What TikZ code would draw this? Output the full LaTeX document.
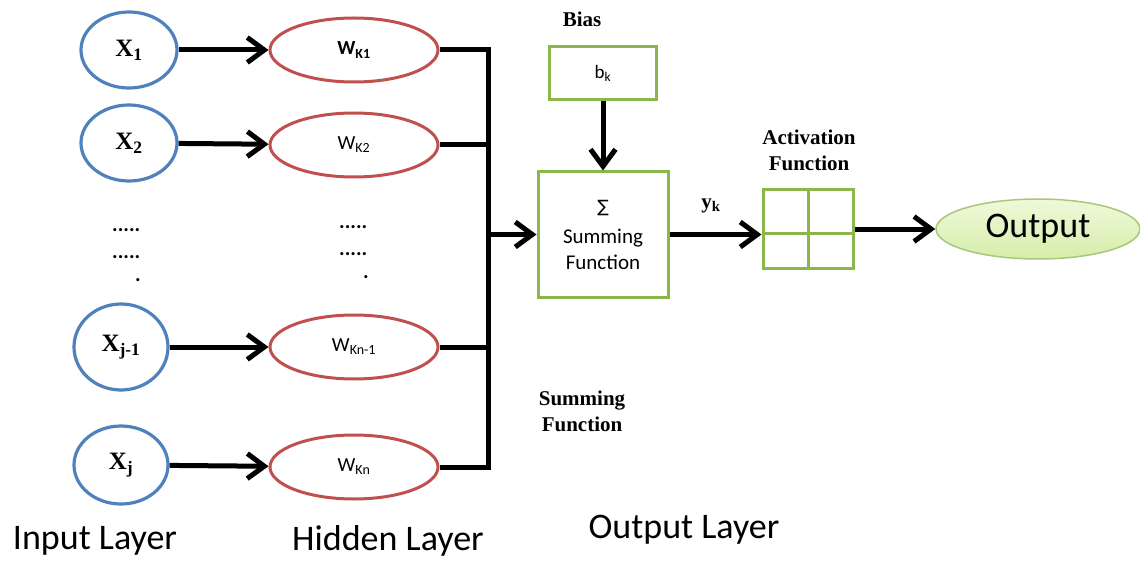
\documentclass[tikz,border=0pt]{standalone}
\usepackage{fontspec}
\setmainfont{Liberation Serif}
\newfontfamily\calib{Carlito}
\newfontfamily\symfont{DejaVu Sans}
\usetikzlibrary{arrows.meta,shapes.geometric}

\definecolor{inblue}{HTML}{4F81BD}
\definecolor{hidred}{HTML}{C0504D}
\definecolor{boxgreen}{HTML}{8DB64A}
\definecolor{outedge}{HTML}{A5C97A}
\definecolor{outtop}{HTML}{EFF9DA}
\definecolor{outbot}{HTML}{D6EDAA}

\newcommand{\fs}[2]{\fontsize{#1}{#2}\selectfont}

\tikzset{
  inode/.style={ellipse, draw=inblue, line width=3.2pt, inner sep=0pt,
    font=\fs{25}{25}\bfseries},
  hnode/.style={ellipse, draw=hidred, line width=3pt, inner sep=0pt,
    minimum width=168pt, minimum height=64pt, font=\calib\fs{20}{20}},
  gbox/.style={rectangle, draw=boxgreen, line width=3pt, inner sep=0pt},
  conn/.style={line width=5pt, draw=black},
  chev/.style={conn, -{Straight Barb[length=17pt,width=25pt,line width=5pt]}},
  blabel/.style={font=\fs{21}{26}\bfseries, align=center, inner sep=0pt},
  layer/.style={font=\calib\fs{36}{36}, inner sep=0pt},
  dots/.style={font=\calib\bfseries\fs{21}{21}, inner sep=0pt},
}

\begin{document}
\begin{tikzpicture}[x=1pt,y=-1pt]
\useasboundingbox (0,0) rectangle (1140,564);

% input layer
\node[inode, minimum width=96pt, minimum height=76pt] (x1) at (129,50) {X\textsubscript{1}};
\node[inode, minimum width=96pt, minimum height=76pt] (x2) at (129,143) {X\textsubscript{2}};
\node[inode, minimum width=94pt, minimum height=86pt] (xj1) at (121,347) {X\textsubscript{j-1}};
\node[inode, minimum width=94pt, minimum height=78pt] (xj) at (121,465) {X\textsubscript{j}};

% hidden layer
\node[hnode, font=\calib\bfseries\fs{20}{20}] (w1) at (354,50) {W\textsubscript{K1}};
\node[hnode] (w2) at (354,145) {W\textsubscript{K2}};
\node[hnode] (wn1) at (354,347) {W\textsubscript{Kn-1}};
\node[hnode] (wn) at (354,467) {W\textsubscript{Kn}};

% ellipsis marks
\node[dots, anchor=west] (dl1) at (112,230) {.....};
\node[dots, anchor=west] (dl2) at (112,257) {.....};
\node[dots] (dl3) at (138,280) {.};
\node[dots, anchor=west] (dh1) at (339,227) {.....};
\node[dots, anchor=west] (dh2) at (339,254) {.....};
\node[dots] (dh3) at (366,277) {.};

% summing, bias, activation, output
\coordinate (bus) at (488,234.5);
\node[gbox, minimum width=130pt, minimum height=125pt, align=center,
      font=\calib\fs{21}{26}] (sum) at (603,234.5)
  {{\symfont\fs{17}{17}∑}\\[5pt]Summing\\Function};
\node[gbox, minimum width=107pt, minimum height=53pt, font=\calib\fs{19}{19}]
  (bias) at (603,73.5) {b\textsubscript{k}};
\node[gbox, minimum width=90pt, minimum height=79pt] (act) at (808,229) {};
\draw[boxgreen, line width=3pt] (act.north) -- (act.south)
  ([yshift=-4pt]act.west) -- ([yshift=-4pt]act.east);
\node[ellipse, draw=outedge, line width=1.5pt, top color=outtop,
      bottom color=outbot, minimum width=204pt, minimum height=60pt,
      inner sep=0pt, font=\calib\fs{36}{36}] (out) at (1038,229) {Output};

% labels
\node[blabel] (biaslbl) at (582,19) {Bias};
\node[blabel] (actlbl) at (809,150) {Activation\\Function};
\node[blabel] (sumlbl) at (582,411) {Summing\\Function};
\node[blabel] (yk) at (711,206) {y\textsubscript{k}};
\node[layer] (lin) at (95,541) {Input Layer};
\node[layer] (lhid) at (388,541) {Hidden Layer};
\node[layer] (lout) at (684,530) {Output Layer};

% connectors
\draw[chev] (x1) -- (w1);
\draw[chev] (x2) -- (w2);
\draw[chev] (xj1) -- (wn1);
\draw[chev] (xj) -- (wn);
\draw[conn] (w1.east) -| (bus);
\draw[conn] (w2.east) -| (bus);
\draw[conn] (wn1.east) -| (bus);
\draw[conn] (wn.east) -| (bus);
\draw[chev] (bus) -- (sum.west);
\draw[chev] (bias) -- (sum);
\draw[chev] (sum.east) -- (sum.east -| act.west);
\draw[chev] (out.west -| act.east) -- (out.west);
\end{tikzpicture}
\end{document}
